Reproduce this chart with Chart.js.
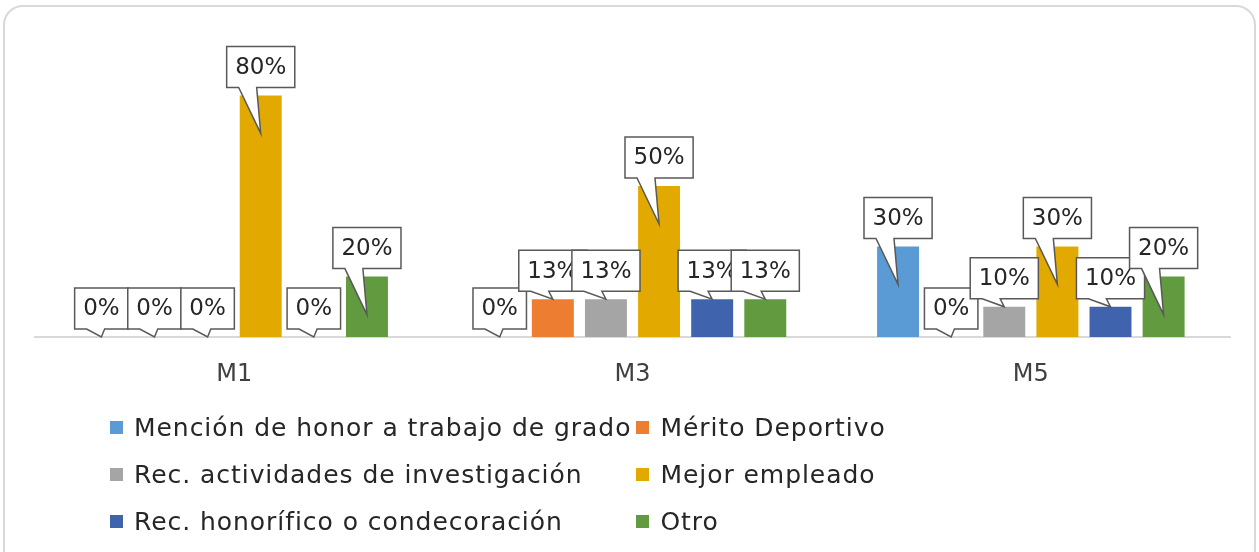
<!DOCTYPE html>
<html>
<head>
<meta charset="utf-8">
<script src="https://cdn.jsdelivr.net/npm/chart.js@4.4.1/dist/chart.umd.min.js"></script>
<style>
  body { margin: 0; background: #fff; }
  #wrap { position: relative; width: 1259px; height: 552px; overflow: hidden; }
  #frame {
    position: absolute; left: 3px; top: 5px; width: 1249px; height: 560px;
    border: 2px solid #d9d9d9; border-radius: 20px;
  }
  #chart { position: absolute; left: 0; top: 0; }
  #legend {
    position: absolute; left: 110px; top: 404px;
    display: grid; grid-template-columns: auto auto; column-gap: 5px;
    font-family: "DejaVu Sans", sans-serif; font-size: 25px; letter-spacing: 0.95px; color: #262626;
  }
  #legend .item { display: flex; align-items: center; height: 47px; white-space: nowrap; }
  #legend .box { width: 13px; height: 13px; margin-right: 11px; flex: none; }
</style>
</head>
<body>
<div id="wrap">
  <div id="frame"></div>
  <canvas id="chart" width="1259" height="552"></canvas>
  <div id="legend"></div>
</div>
<script>
// ----------- DATA -----------
const categories = ["M1", "M3", "M5"];
const seriesNames = [
  "Mención de honor a trabajo de grado",
  "Mérito Deportivo",
  "Rec. actividades de investigación",
  "Mejor empleado",
  "Rec. honorífico o condecoración",
  "Otro"
];
const mencionHonor = [0, 0, 30];
const meritoDeportivo = [0, 12.5, 0];
const recInvestigacion = [0, 12.5, 10];
const mejorEmpleado = [80, 50, 30];
const recHonorifico = [0, 12.5, 10];
const otro = [20, 12.5, 20];

const seriesValues = [mencionHonor, meritoDeportivo, recInvestigacion, mejorEmpleado, recHonorifico, otro];
const seriesColors = ["#5B9BD5", "#ED7D31", "#A5A5A5", "#E2A900", "#3F64AD", "#619A3F"];

// ----------- CALLOUT LABELS -----------
const calloutPlugin = {
  id: "callouts",
  afterDatasetsDraw(chart) {
    const ctx = chart.ctx;
    ctx.save();
    ctx.font = "23px 'DejaVu Sans', sans-serif";
    ctx.textAlign = "center";
    ctx.textBaseline = "middle";
    chart.data.datasets.forEach((ds, di) => {
      const meta = chart.getDatasetMeta(di);
      meta.data.forEach((bar, i) => {
        const label = Math.round(ds.data[i]) + "%";
        const w = ctx.measureText(label).width + 17;
        const h = 41;
        const left = bar.x - w / 2;
        const bottom = bar.y - 8;
        const top = bottom - h;
        const tipY = (bar.base - bar.y) > 50 ? bar.y + 38 : bar.y;
        ctx.beginPath();
        ctx.moveTo(left, top);
        ctx.lineTo(left + w, top);
        ctx.lineTo(left + w, bottom);
        ctx.lineTo(left + 30, bottom);
        ctx.lineTo(bar.x, tipY);
        ctx.lineTo(left + 12, bottom);
        ctx.lineTo(left, bottom);
        ctx.closePath();
        ctx.fillStyle = "#ffffff";
        ctx.fill();
        ctx.lineWidth = 1.5;
        ctx.strokeStyle = "#595959";
        ctx.stroke();
        ctx.fillStyle = "#262626";
        ctx.fillText(label, bar.x, top + h / 2 + 1);
      });
    });
    ctx.restore();
  }
};

// ----------- HTML LEGEND -----------
const htmlLegend = {
  id: "htmlLegend",
  afterUpdate(chart) {
    const el = document.getElementById("legend");
    el.innerHTML = "";
    chart.options.plugins.legend.labels.generateLabels(chart).forEach(item => {
      const row = document.createElement("div");
      row.className = "item";
      const box = document.createElement("span");
      box.className = "box";
      box.style.background = item.fillStyle;
      row.appendChild(box);
      row.appendChild(document.createTextNode(item.text));
      el.appendChild(row);
    });
  }
};

// ----------- BAR CHART -----------
const ctx = document.getElementById("chart").getContext("2d");
new Chart(ctx, {
  type: "bar",
  data: {
    labels: categories,
    datasets: seriesNames.map((name, i) => ({
      label: name,
      data: seriesValues[i],
      backgroundColor: seriesColors[i],
      categoryPercentage: 0.8,
      barPercentage: 0.79
    }))
  },
  options: {
    responsive: false,
    animation: false,
    layout: { padding: { left: 35, right: 29, top: 35, bottom: 145 } },
    plugins: {
      legend: { display: false },
      tooltip: { enabled: false }
    },
    scales: {
      y: { display: false, min: 0, max: 100 },
      x: {
        grid: { display: false, drawTicks: false },
        border: { color: "#d9d9d9", width: 2 },
        ticks: { color: "#404040", padding: 23, font: { family: "'DejaVu Sans', sans-serif", size: 24 } },
        afterFit(scale) { scale.height = 70; }
      }
    }
  },
  plugins: [calloutPlugin, htmlLegend]
});
</script>
</body>
</html>
